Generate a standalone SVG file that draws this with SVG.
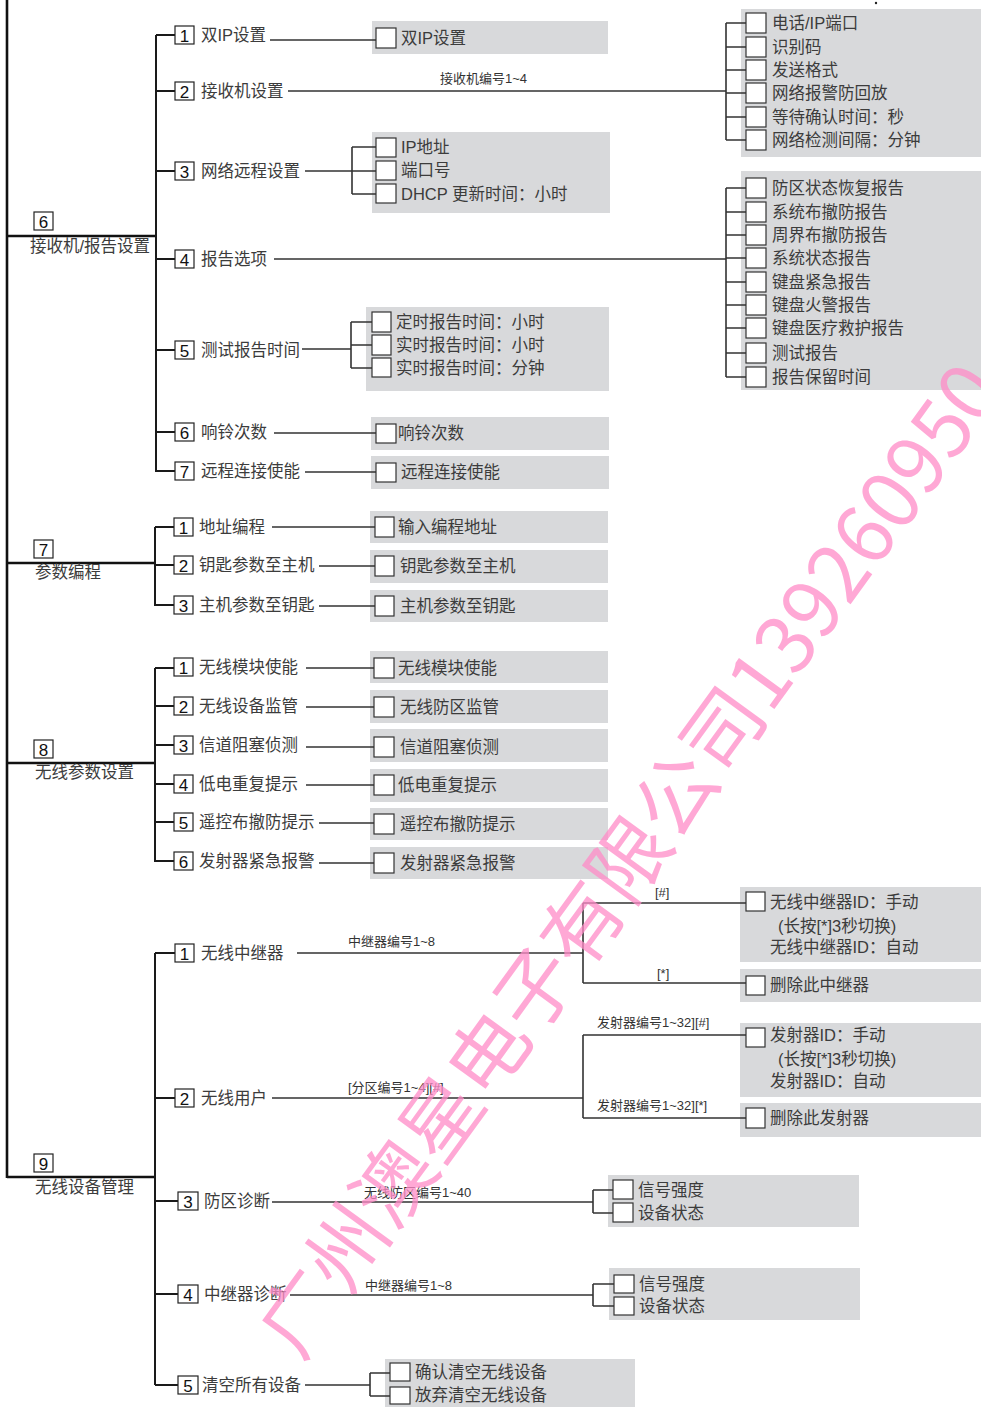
<svg xmlns="http://www.w3.org/2000/svg" width="981" height="1407" viewBox="0 0 981 1407">
<style>
.t{font-family:"Liberation Sans","Noto Sans CJK SC",sans-serif;font-size:16.5px;fill:#3c3c3c}
.n{font-family:"Liberation Sans",sans-serif;font-size:17px;fill:#111;text-anchor:middle}
.s{font-family:"Liberation Sans","Noto Sans CJK SC",sans-serif;font-size:13px;fill:#333}
.nb{fill:#fff;stroke:#222;stroke-width:1.2}
.cb{fill:#fff;stroke:#333;stroke-width:1.2}
.gb{fill:#d8d9db}
.c{fill:none;stroke:#333;stroke-width:1.6}
.m{fill:none;stroke:#111;stroke-width:2.6}
.tr{fill:none;stroke:#1a1a1a;stroke-width:2}
.wm{font-family:"Noto Sans CJK SC",sans-serif;font-size:80px;font-weight:400;fill:#ff8cc8;opacity:0.75}
</style>
<rect width="981" height="1407" fill="#fff"/>
<circle cx="876" cy="3" r="1.2" fill="#222"/>

<!-- gray boxes -->
<g id="boxes">
<rect class="gb" x="372" y="21" width="236" height="33"/>
<rect class="gb" x="372" y="132" width="238" height="81"/>
<rect class="gb" x="741" y="9" width="240" height="148"/>
<rect class="gb" x="741" y="171" width="240" height="219"/>
<rect class="gb" x="366" y="307" width="243" height="84"/>
<rect class="gb" x="371" y="417" width="238" height="33"/>
<rect class="gb" x="371" y="456" width="238" height="33"/>
<rect class="gb" x="370" y="511" width="238" height="32"/>
<rect class="gb" x="370" y="550" width="238" height="33"/>
<rect class="gb" x="370" y="590" width="238" height="32"/>
<rect class="gb" x="370" y="651" width="238" height="32"/>
<rect class="gb" x="370" y="690" width="238" height="33"/>
<rect class="gb" x="370" y="729" width="238" height="33"/>
<rect class="gb" x="370" y="769" width="238" height="33"/>
<rect class="gb" x="370" y="808" width="238" height="32"/>
<rect class="gb" x="370" y="847" width="238" height="32"/>
<rect class="gb" x="740" y="887" width="241" height="75"/>
<rect class="gb" x="740" y="969" width="241" height="33"/>
<rect class="gb" x="740" y="1023" width="241" height="74"/>
<rect class="gb" x="740" y="1103" width="241" height="34"/>
<rect class="gb" x="608" y="1175" width="251" height="52"/>
<rect class="gb" x="609" y="1268" width="251" height="52"/>
<rect class="gb" x="385" y="1359" width="250" height="48"/>
</g>

<!-- connectors -->
<g id="connectors">
<path class="m" d="M7,0 V1178 M7,236 H156 M7,563 H155 M7,763 H155 M7,1177 H155"/>
<path class="tr" d="M156,35 V472 M156,35 H175 M156,91 H175 M156,171 H175 M156,259 H175 M156,350 H175 M156,432 H175 M156,471 H175"/>
<path class="tr" d="M155,527 V606 M155,527 H174 M155,565 H174 M155,605 H174"/>
<path class="tr" d="M155,668 V862 M155,668 H174 M155,706 H174 M155,745 H174 M155,784 H174 M155,822 H174 M155,861 H174"/>
<path class="tr" d="M155,953 V1385 M155,953 H175 M155,1098 H175 M155,1201 H178 M155,1294 H178 M155,1385 H178"/>
<path class="c" d="M270,40 H376"/>
<path class="c" d="M288,91 H726 M726,23 V140 M726,23 H746 M726,47 H746 M726,70 H746 M726,93 H746 M726,117 H746 M726,140 H746"/>
<path class="c" d="M305,171 H376 M352,147 V194 M352,147 H376 M352,194 H376"/>
<path class="c" d="M274,259 H726 M726,188 V377 M726,188 H746 M726,212 H746 M726,235 H746 M726,258 H746 M726,282 H746 M726,305 H746 M726,328 H746 M726,353 H746 M726,377 H746"/>
<path class="c" d="M302,349 H351 M351,322 V368 M351,322 H372 M351,345 H372 M351,368 H372"/>
<path class="c" d="M274,433 H376 M305,472 H376"/>
<path class="c" d="M272,527 H375 M319,566 H375 M319,606 H375"/>
<path class="c" d="M306,668 H374 M306,707 H374 M306,747 H374 M306,785 H374 M319,823 H374 M319,863 H374"/>
<path class="c" d="M297,953 H583 M583,903 V983 M583,903 H746 M583,983 H746"/>
<path class="c" d="M272,1098 H583 M583,1035 V1118 M583,1035 H746 M583,1118 H746"/>
<path class="c" d="M272,1202 H593 M593,1190 V1213 M593,1190 H613 M593,1213 H613"/>
<path class="c" d="M290,1295 H593 M593,1284 V1306 M593,1284 H614 M593,1306 H614"/>
<path class="c" d="M305,1385 H370 M370,1373 V1396 M370,1373 H390 M370,1396 H390"/>
<text class="s" x="440" y="83">接收机编号1~4</text>
<text class="s" x="348" y="946">中继器编号1~8</text>
<text class="s" x="655" y="897">[#]</text>
<text class="s" x="657" y="978">[*]</text>
<text class="s" x="348" y="1092">[分区编号1~4][#]</text>
<text class="s" x="597" y="1027">发射器编号1~32][#]</text>
<text class="s" x="597" y="1110">发射器编号1~32][*]</text>
<text class="s" x="364" y="1197">无线防区编号1~40</text>
<text class="s" x="365" y="1290">中继器编号1~8</text>
</g>

<!-- section 6 -->
<g id="s6">
<rect class="nb" x="34" y="212" width="19" height="18"/><text class="n" x="43.5" y="227.5">6</text>
<text class="t" x="30" y="252">接收机/报告设置</text>
</g>
<g id="s6-1"><rect class="nb" x="175" y="26" width="19" height="18"/><text class="n" x="184.5" y="41.5">1</text><text class="t" x="201" y="41">双IP设置</text></g>
<g id="s6-2"><rect class="nb" x="175" y="82" width="19" height="18"/><text class="n" x="184.5" y="97.5">2</text><text class="t" x="201" y="97">接收机设置</text></g>
<g id="s6-3"><rect class="nb" x="175" y="162" width="19" height="18"/><text class="n" x="184.5" y="177.5">3</text><text class="t" x="201" y="177">网络远程设置</text></g>
<g id="s6-4"><rect class="nb" x="175" y="250" width="19" height="18"/><text class="n" x="184.5" y="265.5">4</text><text class="t" x="201" y="265">报告选项</text></g>
<g id="s6-5"><rect class="nb" x="175" y="341" width="19" height="18"/><text class="n" x="184.5" y="356.5">5</text><text class="t" x="201" y="356">测试报告时间</text></g>
<g id="s6-6"><rect class="nb" x="175" y="423" width="19" height="18"/><text class="n" x="184.5" y="438.5">6</text><text class="t" x="201" y="438">响铃次数</text></g>
<g id="s6-7"><rect class="nb" x="175" y="462" width="19" height="18"/><text class="n" x="184.5" y="477.5">7</text><text class="t" x="201" y="477">远程连接使能</text></g>

<g id="o-dualip"><rect class="cb" x="376" y="28" width="20" height="20"/><text class="t" x="401" y="44">双IP设置</text></g>
<g id="o-net">
<rect class="cb" x="376" y="138" width="20" height="19"/><text class="t" x="401" y="153">IP地址</text>
<rect class="cb" x="376" y="161" width="20" height="19"/><text class="t" x="401" y="176">端口号</text>
<rect class="cb" x="376" y="184" width="20" height="19"/><text class="t" x="401" y="200">DHCP 更新时间：小时</text>
</g>
<g id="o-recv">
<rect class="cb" x="746" y="13" width="20" height="20"/><text class="t" x="772" y="29">电话/IP端口</text>
<rect class="cb" x="746" y="37" width="20" height="20"/><text class="t" x="772" y="53">识别码</text>
<rect class="cb" x="746" y="60" width="20" height="20"/><text class="t" x="772" y="76">发送格式</text>
<rect class="cb" x="746" y="83" width="20" height="20"/><text class="t" x="772" y="99">网络报警防回放</text>
<rect class="cb" x="746" y="107" width="20" height="20"/><text class="t" x="772" y="123">等待确认时间：秒</text>
<rect class="cb" x="746" y="130" width="20" height="20"/><text class="t" x="772" y="146">网络检测间隔：分钟</text>
</g>
<g id="o-report">
<rect class="cb" x="746" y="178" width="20" height="20"/><text class="t" x="772" y="194">防区状态恢复报告</text>
<rect class="cb" x="746" y="202" width="20" height="20"/><text class="t" x="772" y="218">系统布撤防报告</text>
<rect class="cb" x="746" y="225" width="20" height="20"/><text class="t" x="772" y="241">周界布撤防报告</text>
<rect class="cb" x="746" y="248" width="20" height="20"/><text class="t" x="772" y="264">系统状态报告</text>
<rect class="cb" x="746" y="272" width="20" height="20"/><text class="t" x="772" y="288">键盘紧急报告</text>
<rect class="cb" x="746" y="295" width="20" height="20"/><text class="t" x="772" y="311">键盘火警报告</text>
<rect class="cb" x="746" y="318" width="20" height="20"/><text class="t" x="772" y="334">键盘医疗救护报告</text>
<rect class="cb" x="746" y="343" width="20" height="20"/><text class="t" x="772" y="359">测试报告</text>
<rect class="cb" x="746" y="367" width="20" height="20"/><text class="t" x="772" y="383">报告保留时间</text>
</g>
<g id="o-test">
<rect class="cb" x="372" y="312" width="19" height="20"/><text class="t" x="396" y="328">定时报告时间：小时</text>
<rect class="cb" x="372" y="335" width="19" height="20"/><text class="t" x="396" y="351">实时报告时间：小时</text>
<rect class="cb" x="372" y="358" width="19" height="19"/><text class="t" x="396" y="374">实时报告时间：分钟</text>
</g>
<g id="o-ring"><rect class="cb" x="376" y="424" width="20" height="19"/><text class="t" x="398" y="439">响铃次数</text></g>
<g id="o-remote"><rect class="cb" x="376" y="463" width="20" height="19"/><text class="t" x="401" y="478">远程连接使能</text></g>

<!-- section 7 -->
<g id="s7">
<rect class="nb" x="34" y="540" width="19" height="18"/><text class="n" x="43.5" y="555.5">7</text>
<text class="t" x="35" y="578">参数编程</text>
</g>
<g id="s7-1"><rect class="nb" x="174" y="518" width="19" height="18"/><text class="n" x="183.5" y="533.5">1</text><text class="t" x="199" y="533">地址编程</text></g>
<g id="s7-2"><rect class="nb" x="174" y="556" width="19" height="18"/><text class="n" x="183.5" y="571.5">2</text><text class="t" x="199" y="571">钥匙参数至主机</text></g>
<g id="s7-3"><rect class="nb" x="174" y="596" width="19" height="18"/><text class="n" x="183.5" y="611.5">3</text><text class="t" x="199" y="611">主机参数至钥匙</text></g>
<g id="o-s7">
<rect class="cb" x="375" y="517" width="19" height="20"/><text class="t" x="398" y="533">输入编程地址</text>
<rect class="cb" x="375" y="556" width="19" height="20"/><text class="t" x="400" y="572">钥匙参数至主机</text>
<rect class="cb" x="375" y="596" width="19" height="20"/><text class="t" x="400" y="612">主机参数至钥匙</text>
</g>

<!-- section 8 -->
<g id="s8">
<rect class="nb" x="34" y="740" width="19" height="18"/><text class="n" x="43.5" y="755.5">8</text>
<text class="t" x="35" y="778">无线参数设置</text>
</g>
<g id="s8-1"><rect class="nb" x="174" y="658" width="19" height="18"/><text class="n" x="183.5" y="673.5">1</text><text class="t" x="199" y="673">无线模块使能</text></g>
<g id="s8-2"><rect class="nb" x="174" y="697" width="19" height="18"/><text class="n" x="183.5" y="712.5">2</text><text class="t" x="199" y="712">无线设备监管</text></g>
<g id="s8-3"><rect class="nb" x="174" y="736" width="19" height="18"/><text class="n" x="183.5" y="751.5">3</text><text class="t" x="199" y="751">信道阻塞侦测</text></g>
<g id="s8-4"><rect class="nb" x="174" y="775" width="19" height="18"/><text class="n" x="183.5" y="790.5">4</text><text class="t" x="199" y="790">低电重复提示</text></g>
<g id="s8-5"><rect class="nb" x="174" y="813" width="19" height="18"/><text class="n" x="183.5" y="828.5">5</text><text class="t" x="199" y="828">遥控布撤防提示</text></g>
<g id="s8-6"><rect class="nb" x="174" y="852" width="19" height="18"/><text class="n" x="183.5" y="867.5">6</text><text class="t" x="199" y="867">发射器紧急报警</text></g>
<g id="o-s8">
<rect class="cb" x="374" y="658" width="20" height="20"/><text class="t" x="398" y="674">无线模块使能</text>
<rect class="cb" x="374" y="697" width="20" height="20"/><text class="t" x="400" y="713">无线防区监管</text>
<rect class="cb" x="374" y="737" width="20" height="20"/><text class="t" x="400" y="753">信道阻塞侦测</text>
<rect class="cb" x="374" y="775" width="20" height="20"/><text class="t" x="398" y="791">低电重复提示</text>
<rect class="cb" x="374" y="814" width="20" height="20"/><text class="t" x="400" y="830">遥控布撤防提示</text>
<rect class="cb" x="374" y="853" width="20" height="20"/><text class="t" x="400" y="869">发射器紧急报警</text>
</g>

<!-- section 9 -->
<g id="s9">
<rect class="nb" x="34" y="1154" width="19" height="18"/><text class="n" x="43.5" y="1169.5">9</text>
<text class="t" x="35" y="1193">无线设备管理</text>
</g>
<g id="s9-1"><rect class="nb" x="175" y="944" width="19" height="18"/><text class="n" x="184.5" y="959.5">1</text><text class="t" x="201" y="959">无线中继器</text></g>
<g id="s9-2"><rect class="nb" x="175" y="1089" width="19" height="18"/><text class="n" x="184.5" y="1104.5">2</text><text class="t" x="201" y="1104">无线用户</text></g>
<g id="s9-3"><rect class="nb" x="178" y="1192" width="20" height="18"/><text class="n" x="188" y="1207.5">3</text><text class="t" x="204" y="1207">防区诊断</text></g>
<g id="s9-4"><rect class="nb" x="178" y="1285" width="20" height="18"/><text class="n" x="188" y="1300.5">4</text><text class="t" x="204" y="1300">中继器诊断</text></g>
<g id="s9-5"><rect class="nb" x="178" y="1376" width="20" height="18"/><text class="n" x="188" y="1391.5">5</text><text class="t" x="202" y="1391">清空所有设备</text></g>
<g id="o-rep">
<rect class="cb" x="746" y="892" width="19" height="19"/>
<text class="t" x="770" y="908">无线中继器ID：手动</text>
<text class="t" x="778" y="932">(长按[*]3秒切换)</text>
<text class="t" x="770" y="953">无线中继器ID：自动</text>
</g>
<g id="o-delrep"><rect class="cb" x="746" y="976" width="19" height="19"/><text class="t" x="770" y="991">删除此中继器</text></g>
<g id="o-tx">
<rect class="cb" x="746" y="1028" width="19" height="19"/>
<text class="t" x="770" y="1041">发射器ID：手动</text>
<text class="t" x="778" y="1065">(长按[*]3秒切换)</text>
<text class="t" x="770" y="1087">发射器ID：自动</text>
</g>
<g id="o-deltx"><rect class="cb" x="746" y="1108" width="19" height="20"/><text class="t" x="770" y="1124">删除此发射器</text></g>
<g id="o-zonediag">
<rect class="cb" x="613" y="1180" width="20" height="19"/><text class="t" x="638" y="1196">信号强度</text>
<rect class="cb" x="613" y="1203" width="20" height="19"/><text class="t" x="638" y="1219">设备状态</text>
</g>
<g id="o-repdiag">
<rect class="cb" x="614" y="1275" width="20" height="18"/><text class="t" x="639" y="1290">信号强度</text>
<rect class="cb" x="614" y="1297" width="20" height="18"/><text class="t" x="639" y="1312">设备状态</text>
</g>
<g id="o-clear">
<rect class="cb" x="390" y="1363" width="20" height="18"/><text class="t" x="415" y="1378">确认清空无线设备</text>
<rect class="cb" x="390" y="1387" width="20" height="17"/><text class="t" x="415" y="1401">放弃清空无线设备</text>
</g>

<text class="wm" x="300" y="1362" transform="rotate(-54 300 1362)">广州澳星电子有限公司139260950</text>
</svg>
